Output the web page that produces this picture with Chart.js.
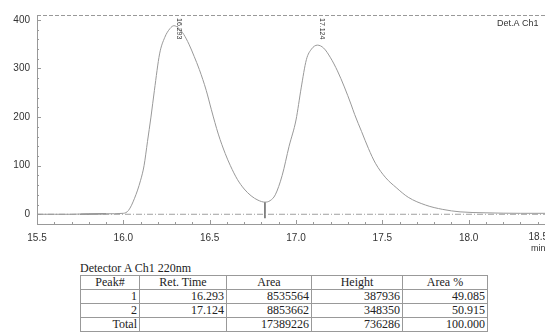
<!DOCTYPE html>
<html>
<head>
<meta charset="utf-8">
<script src="https://cdn.jsdelivr.net/npm/chart.js@4"></script>
<style>
  html, body { margin: 0; padding: 0; background: #fff; overflow: hidden; width: 545px; height: 333px; }
  #chrom { position: absolute; left: 0; top: 0; }
  #unit { position: absolute; left: 531px; top: 243px; font: 9px "Liberation Sans", Arial, sans-serif; color: #333; }
  #title { position: absolute; left: 80px; top: 261px; font: 12px "Liberation Serif", serif; color: #222; }
  table { position: absolute; left: 80px; top: 275px; border-collapse: collapse; font: 12px "Liberation Serif", serif; color: #222; }
  td, th { border: 1px solid #999; height: 13px; padding: 0 2px; line-height: 13px; font-weight: normal; }
  th { text-align: center; }
  td { text-align: right; }
</style>
</head>
<body>
<canvas id="chrom" width="567" height="260"></canvas>
<div id="unit">min</div>
<div id="title">Detector A Ch1 220nm</div>
<table id="peakTable"></table>
<script>
// chromatogram trace (min, mV)
const times = [15.5, 15.6, 15.7, 15.8, 15.9, 16.0, 16.03, 16.065, 16.1, 16.12, 16.14, 16.16, 16.18, 16.21, 16.24, 16.27, 16.293,
  16.32, 16.35, 16.38, 16.41, 16.44, 16.48, 16.51, 16.55, 16.59, 16.62, 16.66, 16.70, 16.74, 16.78, 16.82,
  16.85, 16.88, 16.92, 16.96, 17.00, 17.03, 17.06, 17.09, 17.124, 17.16, 17.20, 17.24, 17.28, 17.32, 17.34,
  17.38, 17.42, 17.46, 17.52, 17.58, 17.65, 17.75, 17.85, 17.95, 18.1, 18.3, 18.5];
const signal = [0, 0, 0, 1, 1, 2, 8, 33, 70, 100, 150, 200, 255, 330, 364, 382, 388,
  383, 370, 350, 325, 298, 255, 215, 165, 125, 100, 72, 52, 38, 29, 25,
  28, 40, 80, 140, 194, 260, 318, 340, 348, 342, 322, 295, 262, 225, 205,
  170, 135, 105, 75, 55, 35, 19, 10, 5, 3, 2, 2];

// peak marks
const peakTimes = [16.293, 17.124];
const peakLabels = ['16.293', '17.124'];
const valleyTime = 16.82;
const valleyMark = [25, -8];

// axis ticks
const xTicks = [15.5, 16.0, 16.5, 17.0, 17.5, 18.0, 18.5];
const yTicks = [0, 100, 200, 300, 400];

// results table
const tableHead = ['Peak#', 'Ret. Time', 'Area', 'Height', 'Area %'];
const peakNums = ['1', '2', 'Total'];
const retTimes = ['16.293', '17.124', ''];
const areas = ['8535564', '8853662', '17389226'];
const heights = ['387936', '348350', '736286'];
const areaPct = ['49.085', '50.915', '100.000'];
const colWidths = [59, 87, 85, 91, 85];

// build the table
const tbl = document.getElementById('peakTable');
let html = '<tr>' + tableHead.map((h, i) => '<th style="width:' + (colWidths[i] - 5) + 'px">' + h + '</th>').join('') + '</tr>';
for (let i = 0; i < peakNums.length; i++) {
    html += '<tr><td>' + peakNums[i] + '</td><td>' + retTimes[i] + '</td><td>' + areas[i] +
        '</td><td>' + heights[i] + '</td><td>' + areaPct[i] + '</td></tr>';
}
tbl.innerHTML = html;

const axisGray = '#999';
const tickFont = '10px "Liberation Sans", Arial, sans-serif';
const lastTick = xTicks[xTicks.length - 1];

// draws top border, minor ticks, peak labels and detector name
const decorPlugin = {
    id: 'decor',
    afterDraw(chart) {
        const ctx = chart.ctx;
        const area = chart.chartArea;
        const xs = chart.scales.x, ys = chart.scales.y;
        ctx.save();
        ctx.strokeStyle = axisGray;
        ctx.lineWidth = 1;
        ctx.setLineDash([4, 2]);
        ctx.beginPath();
        ctx.moveTo(area.left, area.top + 0.5);
        ctx.lineTo(area.right, area.top + 0.5);
        ctx.stroke();
        ctx.setLineDash([]);
        // minor ticks
        ctx.beginPath();
        for (let t = 155; t <= 185; t++) {
            const px = Math.round(xs.getPixelForValue(t / 10)) + 0.5;
            ctx.moveTo(px, area.bottom);
            ctx.lineTo(px, area.bottom - (t % 5 === 0 ? 4 : 2));
        }
        for (let v = 0; v <= 400; v += 20) {
            const py = Math.round(ys.getPixelForValue(v)) + 0.5;
            ctx.moveTo(area.left, py);
            ctx.lineTo(area.left + (v % 100 === 0 ? 4 : 2), py);
        }
        ctx.stroke();
        // last x label squeezed against the edge, like the printout
        ctx.fillStyle = '#333';
        ctx.font = tickFont;
        ctx.textAlign = 'right';
        ctx.textBaseline = 'top';
        ctx.fillText(lastTick.toFixed(1), 548, area.bottom + 8);
        // peak labels, rotated
        ctx.font = '7px "Liberation Sans", Arial, sans-serif';
        ctx.textBaseline = 'middle';
        ctx.textAlign = 'left';
        peakTimes.forEach((t, i) => {
            const px = xs.getPixelForValue(t) + 5;
            ctx.save();
            ctx.translate(px, area.top + 3);
            ctx.rotate(Math.PI / 2);
            ctx.fillText(peakLabels[i], 0, 0);
            ctx.restore();
        });
        ctx.font = '9px "Liberation Sans", Arial, sans-serif';
        ctx.textBaseline = 'top';
        ctx.fillText('Det.A Ch1', 497, area.top + 4);
        ctx.restore();
    }
};

const points = times.map((t, i) => ({ x: t, y: signal[i] }));

new Chart(document.getElementById('chrom').getContext('2d'), {
    type: 'line',
    data: {
        datasets: [{
            data: points,
            borderColor: '#999',
            borderWidth: 1,
            pointRadius: 0,
            cubicInterpolationMode: 'monotone'
        }, {
            data: [{ x: 15.5, y: 0 }, { x: 18.5, y: 0 }],
            borderColor: '#a0a0a0',
            borderWidth: 1,
            borderDash: [6, 2, 1, 2],
            pointRadius: 0
        }, {
            data: [{ x: 15.75, y: 0 }, { x: 15.9, y: 1 }],
            borderColor: '#555',
            borderWidth: 1,
            pointRadius: 0
        }, {
            data: valleyMark.map(v => ({ x: valleyTime, y: v })),
            borderColor: '#777',
            borderWidth: 1,
            pointRadius: 0
        }]
    },
    options: {
        responsive: false,
        animation: false,
        devicePixelRatio: 1,
        layout: { padding: { top: 15, right: 12, left: 0, bottom: 0 } },
        plugins: { legend: { display: false }, tooltip: { enabled: false } },
        scales: {
            x: {
                type: 'linear',
                min: 15.5,
                max: 18.5,
                afterBuildTicks: s => { s.ticks = xTicks.map(v => ({ value: v })); },
                afterFit: s => { s.height = 36; },
                grid: { drawOnChartArea: false, drawTicks: false },
                border: { display: true, color: axisGray, dash: [4, 2] },
                ticks: {
                    padding: 8,
                    color: '#333',
                    font: { family: '"Liberation Sans", Arial, sans-serif', size: 10 },
                    maxRotation: 0,
                    callback: v => (v === lastTick ? '' : v.toFixed(1))
                }
            },
            y: {
                min: -20,
                max: 410,
                afterBuildTicks: s => { s.ticks = yTicks.map(v => ({ value: v })); },
                afterFit: s => { s.width = 37; },
                grid: { drawOnChartArea: false, drawTicks: false },
                border: { display: true, color: axisGray, dash: [3, 2] },
                ticks: {
                    padding: 7,
                    color: '#333',
                    font: { family: '"Liberation Sans", Arial, sans-serif', size: 10 }
                }
            }
        }
    },
    plugins: [decorPlugin]
});
</script>
</body>
</html>
